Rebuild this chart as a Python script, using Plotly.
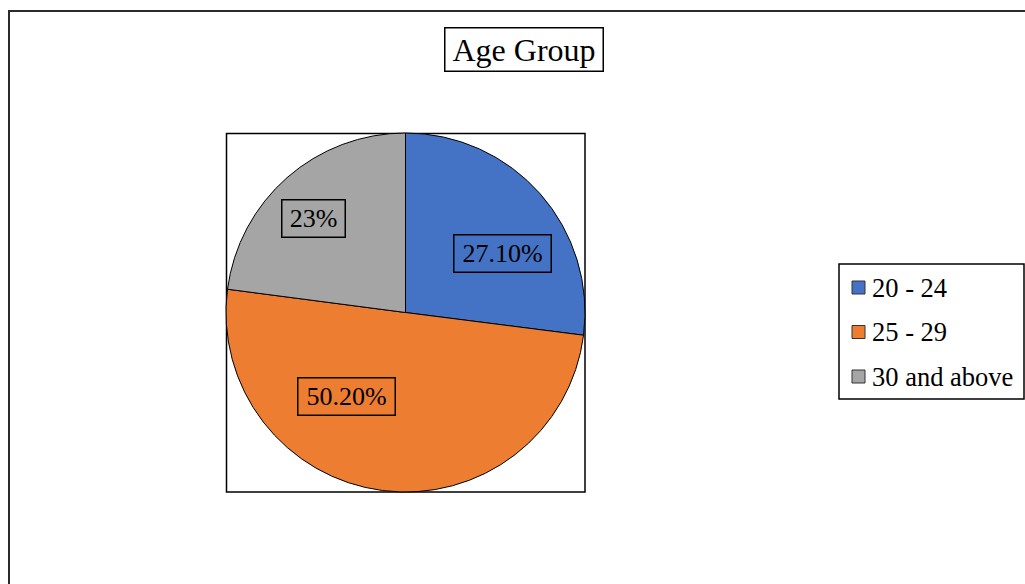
import plotly.graph_objects as go

# Age distribution of respondents
categories = ["20 - 24", "25 - 29", "30 and above"]
shares = [27.1, 50.2, 23]
share_labels = ["27.10%", "50.20%", "23%"]
colors = ["#4472C4", "#ED7D31", "#A5A5A5"]

W, H = 1025, 584
SERIF = "Liberation Serif"


def px(x):
    return x / W


def py(y):
    return 1 - y / H


fig = go.Figure(
    go.Pie(
        labels=categories,
        values=shares,
        sort=False,
        direction="clockwise",
        rotation=0,
        textinfo="none",
        hoverinfo="label+percent",
        marker=dict(colors=colors, line=dict(color="#000000", width=1)),
        domain=dict(x=[px(226), px(585)], y=[py(492), py(133)]),
        showlegend=False,
    )
)

shapes = [
    # outer chart border (runs off the right and bottom edges)
    dict(type="rect", xref="paper", yref="paper", x0=px(9), x1=1.02, y0=-0.02, y1=py(11),
         line=dict(color="#2b2b2b", width=2), fillcolor="rgba(0,0,0,0)", layer="above"),
    # plot area frame around the pie
    dict(type="rect", xref="paper", yref="paper", x0=px(226.5), x1=px(585), y0=py(492), y1=py(133.5),
         line=dict(color="#000000", width=1.5), fillcolor="rgba(0,0,0,0)", layer="below"),
    # legend frame
    dict(type="rect", xref="paper", yref="paper", x0=px(839), x1=px(1024), y0=py(399), y1=py(264),
         line=dict(color="#000000", width=1.5), fillcolor="rgba(0,0,0,0)"),
]

annotations = [
    dict(text="Age Group", xref="paper", yref="paper", x=px(524), y=py(49.5),
         xanchor="center", yanchor="middle", showarrow=False,
         font=dict(family=SERIF, size=32, color="#000000"),
         bordercolor="#000000", borderwidth=1.5, borderpad=0,
         bgcolor="#ffffff", width=157, height=42),
]

# data label boxes (centre x, centre y, box width)
label_boxes = [(502, 253.5, 96), (346, 396.7, 96), (313, 218.5, 62)]
for text, (cx, cy, bw) in zip(share_labels, label_boxes):
    annotations.append(
        dict(text=text, xref="paper", yref="paper", x=px(cx), y=py(cy),
             xanchor="center", yanchor="middle", showarrow=False,
             font=dict(family=SERIF, size=26, color="#000000"),
             bordercolor="#000000", borderwidth=1.5, borderpad=0,
             width=bw, height=36)
    )

# legend entries
for i, (name, col) in enumerate(zip(categories, colors)):
    cy = 287.5 + i * 44.5
    shapes.append(
        dict(type="rect", xref="paper", yref="paper",
             x0=px(852), x1=px(865), y0=py(cy + 6.5), y1=py(cy - 6.5),
             line=dict(color="#333333", width=1), fillcolor=col)
    )
    annotations.append(
        dict(text=name, xref="paper", yref="paper", x=px(870), y=py(cy),
             xanchor="left", yanchor="middle", showarrow=False,
             font=dict(family=SERIF, size=26.5, color="#000000"))
    )

fig.update_layout(
    width=W,
    height=H,
    margin=dict(l=0, r=0, t=0, b=0),
    paper_bgcolor="#ffffff",
    plot_bgcolor="#ffffff",
    shapes=shapes,
    annotations=annotations,
)

fig.write_html("out.html")
